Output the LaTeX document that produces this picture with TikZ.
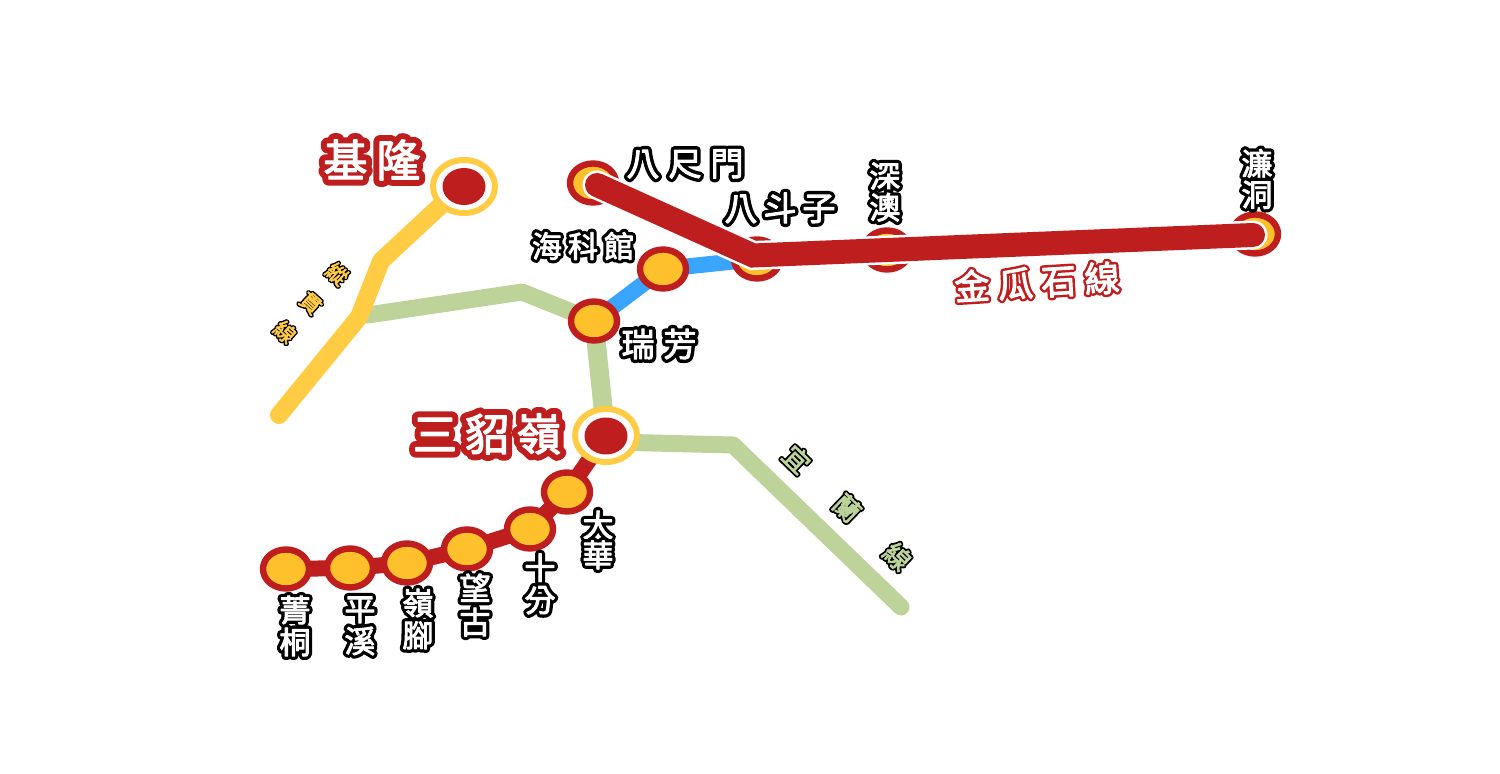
\documentclass[tikz,border=0pt]{standalone}
\usepackage{fontspec}
\usetikzlibrary{shapes.geometric}
\setmainfont{Noto Sans CJK TC}
\newfontfamily\cjkbody[FakeBold=3]{Noto Sans CJK TC}
\newfontfamily\cjkfat[FakeBold=24]{Noto Sans CJK TC}
\newfontfamily\cjkbig[FakeBold=30]{Noto Sans CJK TC}
\newfontfamily\cjkthin[FakeBold=17]{Noto Sans CJK TC}
\definecolor{rail}{HTML}{BE1E1E}
\definecolor{sun}{HTML}{FFC12B}
\definecolor{sunline}{HTML}{FFCC44}
\definecolor{leaf}{HTML}{BDD39A}
\definecolor{sky}{HTML}{3AA5FF}
\newlength\chpitch
\newcommand\glyphfat[3]{\makebox[\chpitch][c]{\makebox[0pt][c]{\color{#1}\cjkfat #3}\makebox[0pt][c]{\color{#2}\cjkbody #3}}}
\newcommand\glyphbig[3]{\makebox[\chpitch][c]{\makebox[0pt][c]{\color{#1}\cjkbig #3}\makebox[0pt][c]{\color{#2}\cjkbody #3}}}
\newcommand\glyphthin[3]{\makebox[\chpitch][c]{\makebox[0pt][c]{\color{#1}\cjkthin #3}\makebox[0pt][c]{\color{#2}\cjkbody #3}}}
\newcommand\rb[1]{\glyphbig{rail}{white}{#1}}
\newcommand\kw[1]{\glyphfat{black}{white}{#1}}
\pgfdeclarelayer{under}
\pgfdeclarelayer{paper}
\pgfsetlayers{paper,under,main}
\tikzset{
  x=0.5pt,y=-0.5pt,
  stationmark/.style={ellipse,draw=rail,fill=sun,line width=3.2pt,inner sep=0pt,minimum width=23pt,minimum height=19.5pt},
  hubring/.style={ellipse,draw=sunline,fill=white,line width=3pt,inner sep=0pt,minimum width=31pt,minimum height=26.5pt},
  hubcore/.style={ellipse,fill=rail,inner sep=0pt,minimum width=21.5pt,minimum height=18.5pt},
  labeltext/.style n args={3}{inner sep=0pt,align=center,line join=round,font=\fontsize{#1}{#2}\selectfont\setlength\chpitch{#3}},
  greenline/.style={leaf,line width=8.5pt,line join=round,line cap=round},
  greentrunk/.style={leaf,line width=9.5pt},
  yellowline/.style={sunline,line width=9pt,line join=round,line cap=round},
  blueline/.style={sky,line width=8pt},
  redline/.style={rail,line width=8pt},
  mainred/.style={rail,line width=12pt,line cap=round},
  mainhalo/.style={white,line width=14.5pt,line cap=round},
}
\begin{document}
\begin{tikzpicture}[line join=round]
\useasboundingbox (0,0) rectangle (1500,774);
\begin{pgfonlayer}{paper}
\fill[white] (0,0) rectangle (1500,774);
\end{pgfonlayer}
% hubs
\node[hubring] (keelung) at (464,186.5) {};
\node[hubcore] (keelungcore) at (464,186.5) {};
\node[hubring] (sandiao) at (606,435.5) {};
\node[hubcore] (sandiaocore) at (606,436) {};
% stations
\node[stationmark] (dahua) at (567,492) {};
\node[stationmark] (shifen) at (530,529) {};
\node[stationmark] (wanggu) at (467,549) {};
\node[stationmark] (lingjiao) at (407,563) {};
\node[stationmark] (pingxi) at (350,568) {};
\node[stationmark] (jingtong) at (286,569) {};
\node[stationmark] (haike) at (663,269) {};
\node[stationmark] (ruifang) at (594,321) {};
\node[stationmark] (bachi) at (593,183) {};
\node[stationmark] (badouzi) at (757,259) {};
\node[stationmark] (shenao) at (887,250) {};
\node[stationmark] (liandong) at (1255,234) {};
% free ends and bends
\coordinate (ya) at (279,415);
\coordinate (yb) at (359,317);
\coordinate (yc) at (381,261);
\coordinate (yd) at (438,208);
\coordinate (ga) at (368,315);
\coordinate (gb) at (522,292);
\coordinate (gs) at (612,442);
\coordinate (gc) at (733,445);
\coordinate (gd) at (901,607);
\coordinate (ra) at (597,185);
\coordinate (rb) at (753,255.5);
\coordinate (rc) at (1253,235);
\begin{pgfonlayer}{under}
\draw[greenline] (ga) -- (gb) -- (ruifang.center);
\draw[greentrunk] (ruifang.center) -- (sandiao.center);
\draw[greenline] (gs) -- (gc) -- (gd);
\draw[yellowline] (ya) -- (yb) -- (yc) -- (yd) -- (keelung.center);
\draw[blueline] (ruifang.center) -- (haike.center) -- (badouzi.center);
\draw[redline] (sandiao.center) -- (dahua.center) -- (shifen.center) -- (wanggu.center) -- (lingjiao.center) -- (pingxi.center) -- (jingtong.center);
\end{pgfonlayer}
\draw[mainhalo,line join=miter] (ra) -- (rb) -- (rc);
\draw[mainred,line join=miter] (ra) -- (rb) -- (rc);
% labels
\node[labeltext={22}{26}{26.5pt}] (lkeelung) at (372,160) {\rb{基}\rb{隆}};
\node[labeltext={22}{26}{26pt}] (lsandiao) at (487,434) {\rb{三}\rb{貂}\rb{嶺}};
\node[labeltext={16.5}{20}{21pt}] (lbachi) at (685,164) {\kw{八}\kw{尺}\kw{門}};
\node[labeltext={16.5}{20}{19.5pt}] (lbadouzi) at (780,208) {\kw{八}\kw{斗}\kw{子}};
\node[labeltext={15}{18}{18pt}] (lhaike) at (583,246) {\kw{海}\kw{科}\kw{館}};
\node[labeltext={16.5}{20}{21pt}] (lruifang) at (659,344) {\kw{瑞}\kw{芳}};
\node[labeltext={15.5}{15.5}{17pt}] (lshenao) at (885,192) {\kw{深}\\\kw{澳}};
\node[labeltext={15.5}{15.5}{17pt}] (lliandong) at (1257,179) {\kw{濂}\\\kw{洞}};
\node[labeltext={15.5}{15}{17pt}] (ldahua) at (598,540) {\kw{大}\\\kw{華}};
\node[labeltext={15.5}{16}{17pt}] (lshifen) at (540,584) {\kw{十}\\\kw{分}};
\node[labeltext={15.5}{17}{17pt}] (lwanggu) at (475,605) {\kw{望}\\\kw{古}};
\node[labeltext={15.5}{16}{17pt}] (llingjiao) at (418,619) {\kw{嶺}\\\kw{腳}};
\node[labeltext={15.5}{16}{17pt}] (lpingxi) at (360,626) {\kw{平}\\\kw{溪}};
\node[labeltext={15.5}{16}{17pt}] (ljingtong) at (295,626) {\kw{菁}\\\kw{桐}};
\node[labeltext={17.5}{20}{21.7pt},rotate=3.5] (ljingua) at (1037,282) {\glyphthin{rail}{white}{金}\glyphthin{rail}{white}{瓜}\glyphthin{rail}{white}{石}\glyphthin{rail}{white}{線}};
\node[labeltext={10.5}{19.5}{12pt},rotate=-42] (lzongguan) at (311,303) {\glyphthin{black}{sunline}{縱}\\\glyphthin{black}{sunline}{貫}\\\glyphthin{black}{sunline}{線}};
\node[labeltext={13}{15}{35pt},rotate=-44] (lyilan) at (847,508) {\glyphthin{black}{leaf}{宜}\glyphthin{black}{leaf}{蘭}\glyphthin{black}{leaf}{線}};
\end{tikzpicture}
\end{document}
